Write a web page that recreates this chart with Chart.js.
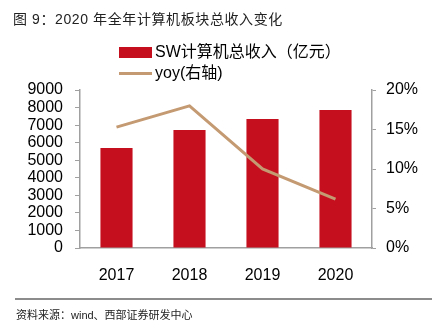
<!DOCTYPE html>
<html>
<head>
<meta charset="utf-8">
<script src="https://cdn.jsdelivr.net/npm/chart.js@4"></script>
<style>
  body { margin: 0; background: #fff; }
  #wrap { position: relative; width: 440px; height: 334px; font-family: "Liberation Sans", "Noto Sans CJK SC", sans-serif; color: #000; }
  #chart { position: absolute; left: 0; top: 0; }
  .title { position: absolute; left: 13px; top: 8px; font-size: 14px; letter-spacing: 0.6px; color: #222; white-space: nowrap; }
  .legend { position: absolute; left: 119px; font-size: 16px; white-space: nowrap; line-height: 20px; }
  .legend span.sw { display: inline-block; width: 33px; vertical-align: middle; margin-right: 3px; }
  .rule { position: absolute; left: 15px; top: 298px; width: 417px; height: 2px; background: #8c8c8c; }
  .source { position: absolute; left: 16px; top: 306px; font-size: 11px; color: #222; white-space: nowrap; }
</style>
</head>
<body>
<div id="wrap">
  <canvas id="chart" width="440" height="334"></canvas>
  <div class="title">图 9：2020 年全年计算机板块总收入变化</div>
  <div class="legend" style="top:42px"><span class="sw" style="height:11px;background:#c50f1f"></span>SW计算机总收入（亿元）</div>
  <div class="legend" style="top:63px"><span class="sw" style="height:3px;background:#c49a72"></span>yoy(右轴)</div>
  <div class="rule"></div>
  <div class="source">资料来源：wind、西部证券研发中心</div>
</div>
<script>
// values
const years = ['2017', '2018', '2019', '2020'];
const revenue = [5700, 6720, 7350, 7860];   // 亿元
const yoy = [15.3, 18.0, 10.0, 6.2];        // %

const axisColor = '#a0a0a0';
const tickFont = { family: 'Liberation Sans, Arial, sans-serif', size: 16 };

new Chart(document.getElementById('chart'), {
  data: {
    labels: years,
    datasets: [
      {
        type: 'line',
        label: 'yoy(右轴)',
        data: yoy,
        yAxisID: 'y1',
        borderColor: '#c49a72',
        borderWidth: 3,
        pointRadius: 0,
        tension: 0,
        order: 0
      },
      {
        type: 'bar',
        label: 'SW计算机总收入（亿元）',
        data: revenue,
        yAxisID: 'y',
        backgroundColor: '#c50f1f',
        categoryPercentage: 1,
        barPercentage: 0.44,
        order: 1
      }
    ]
  },
  options: {
    responsive: false,
    animation: false,
    layout: { padding: { top: 90, left: 0, right: 0, bottom: 54 } },
    plugins: {
      legend: { display: false },
      tooltip: { enabled: false }
    },
    scales: {
      x: {
        grid: { display: false },
        border: { color: axisColor, width: 1.5 },
        ticks: { color: '#000', font: tickFont, padding: 10 },
        afterFit: s => { s.height = 32; }
      },
      y: {
        position: 'left',
        min: 0,
        max: 9000,
        grid: { drawOnChartArea: false, drawTicks: true, tickLength: 5, color: axisColor },
        border: { color: axisColor, width: 1.5 },
        ticks: { stepSize: 1000, autoSkip: false, color: '#000', font: tickFont, padding: 12, callback: v => String(v) },
        afterFit: s => { s.width = 80; }
      },
      y1: {
        position: 'right',
        min: 0,
        max: 20,
        grid: { drawOnChartArea: false, drawTicks: true, tickLength: 4, color: axisColor },
        border: { color: axisColor, width: 1.5 },
        ticks: { stepSize: 5, autoSkip: false, color: '#000', font: tickFont, padding: 10, callback: v => v + '%' },
        afterFit: s => { s.width = 68; }
      }
    }
  }
});
</script>
</body>
</html>
